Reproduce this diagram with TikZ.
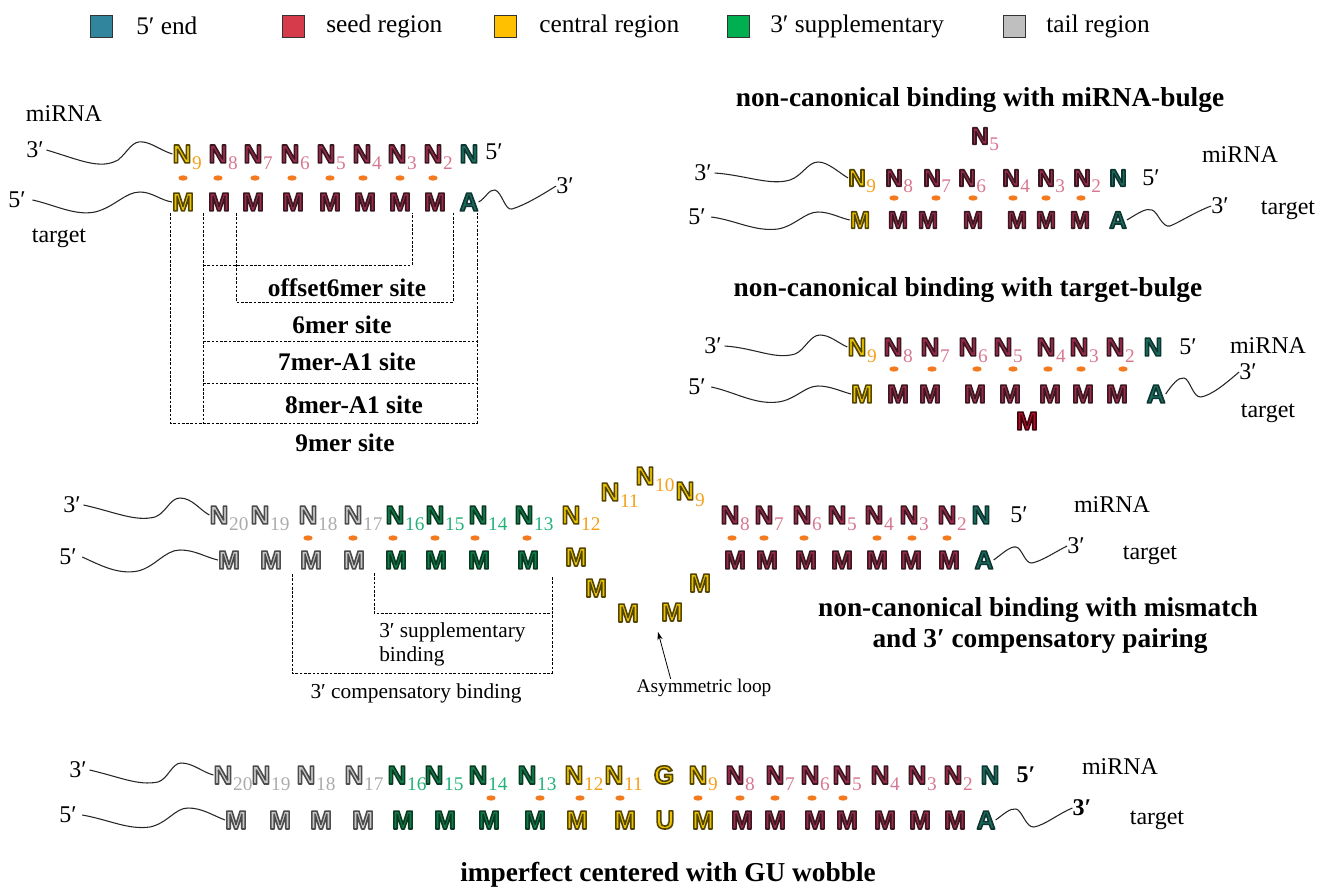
\documentclass[tikz,border=0pt]{standalone}
\usepackage{fontspec}
\setmainfont{Liberation Serif}
\newfontfamily\seqf{Liberation Sans}
\usetikzlibrary{shapes.geometric,arrows.meta}
\definecolor{seedF}{HTML}{9A2B4B}\definecolor{seedS}{HTML}{D77891}
\definecolor{cenF}{HTML}{EBC400}\definecolor{cenS}{HTML}{F5A01A}
\definecolor{supF}{HTML}{117C4B}\definecolor{supS}{HTML}{22B27A}
\definecolor{tailF}{HTML}{C8C8C8}\definecolor{tailS}{HTML}{ABABAB}
\definecolor{endF}{HTML}{1D6A5E}
\definecolor{bulF}{HTML}{B01025}
\definecolor{dotc}{HTML}{F47A20}
\definecolor{legA}{HTML}{31859C}\definecolor{legB}{HTML}{D63B4C}\definecolor{legC}{HTML}{FFC000}
\definecolor{legD}{HTML}{00B050}\definecolor{legE}{HTML}{BFBFBF}
\newcommand{\oSeed}{0.23 0.09 0.13}
\newcommand{\oCen}{0.33 0.27 0.0}
\newcommand{\oSup}{0.04 0.23 0.13}
\newcommand{\oTail}{0.30 0.30 0.30}
\newcommand{\oFive}{0.05 0.21 0.19}
\newcommand{\oBul}{0.25 0.0 0.06}
\newcommand{\olt}[3]{{\color{#2}\special{pdf:literal direct 2 Tr 1 j 1 J 1.2 w #1 RG}#3\special{pdf:literal direct 0 Tr 0 j 0 J}}}
\newcommand{\subn}[2]{\rlap{\smash{\kern.6pt\lower5pt\hbox{\fontsize{14.5pt}{14.5pt}\selectfont\rmfamily\mdseries\color{#1}#2}}}}
\newcommand{\nS}[1]{\olt{\oSeed}{seedF}{N}\subn{seedS}{#1}}
\newcommand{\nC}[1]{\olt{\oCen}{cenF}{N}\subn{cenS}{#1}}
\newcommand{\nG}[1]{\olt{\oSup}{supF}{N}\subn{supS}{#1}}
\newcommand{\nT}[1]{\olt{\oTail}{tailF}{N}\subn{tailS}{#1}}
\newcommand{\nE}{\olt{\oFive}{endF}{N}}
\newcommand{\mS}{\olt{\oSeed}{seedF}{M}}
\newcommand{\mC}{\olt{\oCen}{cenF}{M}}
\newcommand{\mG}{\olt{\oSup}{supF}{M}}
\newcommand{\mT}{\olt{\oTail}{tailF}{M}}
\newcommand{\aE}{\olt{\oFive}{endF}{A}}
\newcommand{\mB}{\olt{\oBul}{bulF}{M}}
\newcommand{\gC}{\olt{\oCen}{cenF}{G}}
\newcommand{\uC}{\olt{\oCen}{cenF}{U}}
\tikzset{
 ltr/.style={inner sep=0pt, font=\seqf\bfseries\fontsize{19.5pt}{19.5pt}\selectfont},
 ltrb/.style={inner sep=0pt, font=\seqf\bfseries\fontsize{18pt}{18pt}\selectfont},
 dot/.style={ellipse, fill=dotc, minimum width=7pt, minimum height=4pt, inner sep=0pt},
 lab/.style={inner sep=0pt, font=\fontsize{18pt}{20pt}\selectfont},
 labb/.style={inner sep=0pt, font=\bfseries\fontsize{18pt}{20pt}\selectfont},
 ttl/.style={inner sep=0pt, font=\bfseries\fontsize{20.5pt}{24pt}\selectfont},
 site/.style={inner sep=0pt, font=\bfseries\fontsize{19pt}{21pt}\selectfont},
 note/.style={inner sep=0pt, font=\fontsize{16pt}{18pt}\selectfont},
 leg/.style={inner sep=0pt, anchor=west, font=\fontsize{19pt}{21pt}\selectfont},
 sqr/.style={draw=black!80, line width=0.5pt, minimum size=16.5pt, inner sep=0pt},
 dsh/.style={dash pattern=on 2pt off 1.2pt, line width=0.6pt},
 wv/.style={line width=0.8pt, black!85}
}
\begin{document}
\begin{tikzpicture}[x=0.75pt,y=-0.75pt]
\useasboundingbox (0,0) rectangle (1332,888);
% legend
\node[sqr, fill=legA] (lq1) at (101,26) {}; \node[leg] (lt1) at (136,26) {5′ end};
\node[sqr, fill=legB] (lq2) at (293,26) {}; \node[leg] (lt2) at (326,26) {seed region};
\node[sqr, fill=legC] (lq3) at (505,26) {}; \node[leg] (lt3) at (539,26) {central region};
\node[sqr, fill=legD] (lq4) at (738,26) {}; \node[leg] (lt4) at (770,26) {3′ supplementary};
\node[sqr, fill=legE] (lq5) at (1014,26) {}; \node[leg] (lt5) at (1046,26) {tail region};

% ---------- panel 1 ----------
\node[lab] (a-mi) at (64,114) {miRNA};
\node[lab] (a-l3) at (35,150) {3′};
\node[lab] (a-l5) at (17,200) {5′};
\node[lab] (a-tg) at (59,238) {target};
\foreach \x/\t [count=\i] in {182/\nC{9},218/\nS{8},253/\nS{7},290/\nS{6},326/\nS{5},362/\nS{4},397/\nS{3},433/\nS{2},469/\nE}
  \node[ltr] (a-n\i) at (\x,154) {\t};
\foreach \x/\t [count=\i] in {183/\mC,219/\mS,253/\mS,293/\mS,330/\mS,365/\mS,400/\mS,435/\mS,469/\aE}
  \node[ltr] (a-m\i) at (\x,202) {\t};
\foreach \x [count=\i] in {183,218,255,292,330,363,400,433}
  \node[dot] (a-d\i) at (\x,178) {};
\node[lab] (a-r5) at (494,152) {5′};
\node[lab] (a-r3) at (565,186) {3′};
\draw[wv] ([xshift=2]a-l3.east) .. controls (80,160) and (100,170) .. (118,160) .. controls (128,152) and (132,140) .. (143,142) .. controls (152,143) and (160,150) .. (a-n1.west);
\draw[wv] ([xshift=5]a-l5.east) .. controls (55,205) and (75,216) .. (95,212) .. controls (115,207) and (125,192) .. (140,192) .. controls (152,192) and (160,200) .. (a-m1.west);
\draw[wv] (a-m9.east) .. controls (486,198) and (489,189) .. (495,190) .. controls (502,192) and (505,211) .. (512,209) .. controls (525,205) and (540,196) .. (a-r3.west);
% site brackets
\draw[dsh] (170,213) -- (170,423) -- (477,423) -- (477,213);
\draw[dsh] (203,213) -- (203,423);
\draw[dsh] (203,265) -- (412,265) -- (412,213);
\draw[dsh] (236,213) -- (236,302) -- (453,302) -- (453,213);
\draw[dsh] (203,341) -- (477,341);
\draw[dsh] (203,383) -- (477,383);
\node[site] (s1) at (347,288) {offset6mer site};
\node[site] (s2) at (342,325) {6mer site};
\node[site] (s3) at (347,362) {7mer-A1 site};
\node[site] (s4) at (354,405) {8mer-A1 site};
\node[site] (s5) at (345,443) {9mer site};

% ---------- panel 2 ----------
\node[ttl] (b-t) at (980,100) {non-canonical binding with miRNA-bulge};
\node[ltrb] (b-bu) at (980,136) {\nS{5}};
\node[lab] (b-mi) at (1240,155) {miRNA};
\node[lab] (b-l3) at (703,173) {3′};
\node[lab] (b-l5) at (697,217) {5′};
\foreach \x/\t [count=\i] in {857/\nC{9},894/\nS{8},932/\nS{7},967/\nS{6},1011/\nS{4},1046/\nS{3},1082/\nS{2},1118/\nE}
  \node[ltrb] (b-n\i) at (\x,178) {\t};
\foreach \x/\t [count=\i] in {860/\mC,898/\mS,928/\mS,973/\mS,1017/\mS,1046/\mS,1080/\mS,1118/\aE}
  \node[ltrb] (b-m\i) at (\x,220) {\t};
\foreach \x [count=\i] in {894,936,973,1013,1046,1081}
  \node[dot] (b-d\i) at (\x,198) {};
\node[lab] (b-r5) at (1151,178) {5′};
\node[lab] (b-r3) at (1220,206) {3′};
\node[lab] (b-tg) at (1288,210) {target};
\draw[wv] ([xshift=2]b-l3.east) .. controls (745,175) and (770,186) .. (790,180) .. controls (802,176) and (808,162) .. (818,162) .. controls (828,162) and (838,172) .. (b-n1.west);
\draw[wv] ([xshift=4]b-l5.east) .. controls (735,220) and (755,232) .. (778,229) .. controls (795,226) and (805,212) .. (818,212) .. controls (830,212) and (840,218) .. (b-m1.west);
\draw[wv] (b-m8.east) .. controls (1140,212) and (1146,208) .. (1152,210) .. controls (1158,212) and (1162,228) .. (1170,226) .. controls (1180,222) and (1195,212) .. (b-r3.west);

% ---------- panel 3 ----------
\node[ttl] (c-t) at (968,290) {non-canonical binding with target-bulge};
\node[lab] (c-l3) at (713,346) {3′};
\node[lab] (c-l5) at (697,387) {5′};
\foreach \x/\t [count=\i] in {857/\nC{9},893/\nS{8},930/\nS{7},968/\nS{6},1003/\nS{5},1046/\nS{4},1079/\nS{3},1115/\nS{2},1153/\nE}
  \node[ltr] (c-n\i) at (\x,347) {\t};
\foreach \x/\t [count=\i] in {862/\mC,898/\mS,930/\mS,975/\mS,1010/\mS,1050/\mS,1083/\mS,1117/\mS,1156/\aE}
  \node[ltr] (c-m\i) at (\x,394) {\t};
\node[ltr] (c-bu) at (1027,421) {\mB};
\foreach \x [count=\i] in {894,932,977,1013,1048,1081,1123}
  \node[dot] (c-d\i) at (\x,369) {};
\node[lab] (c-r5) at (1188,347) {5′};
\node[lab] (c-mi) at (1268,346) {miRNA};
\node[lab] (c-r3) at (1248,372) {3′};
\node[lab] (c-tg) at (1268,413) {target};
\draw[wv] ([xshift=2]c-l3.east) .. controls (755,348) and (775,360) .. (795,354) .. controls (805,350) and (810,335) .. (820,335) .. controls (830,335) and (838,343) .. (c-n1.west);
\draw[wv] ([xshift=4]c-l5.east) .. controls (735,392) and (755,405) .. (778,402) .. controls (795,400) and (805,386) .. (818,386) .. controls (830,386) and (840,391) .. (c-m1.west);
\draw[wv] (c-m9.east) .. controls (1172,385) and (1178,377) .. (1184,378) .. controls (1190,379) and (1193,398) .. (1201,397) .. controls (1212,395) and (1225,384) .. (c-r3.west);

% ---------- panel 4 ----------
\node[lab] (d-l3) at (72,505) {3′};
\node[lab] (d-l5) at (68,557) {5′};
\foreach \x/\t [count=\i] in {219/\nT{20},260/\nT{19},308/\nT{18},353/\nT{17},395/\nG{16},435/\nG{15},478/\nG{14},524/\nG{13},571/\nC{12}}
  \node[ltr] (d-n\i) at (\x,515) {\t};
\node[ltr] (d-n11) at (610,492) {\nC{11}};
\node[ltr] (d-n10) at (645,476) {\nC{10}};
\node[ltr] (d-n9) at (685,491) {\nC{9}};
\foreach \x/\t [count=\i] in {730/\nS{8},764/\nS{7},802/\nS{6},837/\nS{5},874/\nS{4},909/\nS{3},947/\nS{2},981/\nE}
  \node[ltr] (d-s\i) at (\x,515) {\t};
\foreach \x/\t [count=\i] in {229/\mT,271/\mT,311/\mT,354/\mT,396/\mG,436/\mG,479/\mG,528/\mG}
  \node[ltr] (d-m\i) at (\x,560) {\t};
\node[ltr] (d-o1) at (576,557) {\mC};
\node[ltr] (d-o2) at (596,588) {\mC};
\node[ltr] (d-o3) at (628,613) {\mC};
\node[ltr] (d-o4) at (672,612) {\mC};
\node[ltr] (d-o5) at (700,583) {\mC};
\foreach \x/\t [count=\i] in {735/\mS,767/\mS,806/\mS,842/\mS,877/\mS,911/\mS,949/\mS,984/\aE}
  \node[ltr] (d-t\i) at (\x,560) {\t};
\foreach \x [count=\i] in {308,353,393,435,475,527,732,764,804,877,912,947}
  \node[dot] (d-d\i) at (\x,538) {};
\node[lab] (d-r5) at (1019,515) {5′};
\node[lab] (d-mi) at (1112,505) {miRNA};
\node[lab] (d-r3) at (1076,546) {3′};
\node[lab] (d-tg) at (1150,555) {target};
\draw[wv] ([xshift=2]d-l3.east) .. controls (115,512) and (135,522) .. (155,517) .. controls (166,513) and (170,498) .. (180,498) .. controls (192,498) and (200,510) .. (d-n1.west);
\draw[wv] ([xshift=4]d-l5.east) .. controls (100,565) and (118,575) .. (138,571) .. controls (155,567) and (165,550) .. (180,550) .. controls (195,550) and (205,557) .. (d-m1.west);
\draw[wv] (d-t8.east) .. controls (1002,554) and (1010,546) .. (1016,547) .. controls (1022,548) and (1025,564) .. (1032,563) .. controls (1042,561) and (1055,552) .. (d-r3.west);
\draw[dsh] (374,573) -- (374,613) -- (552,613);
\draw[dsh] (552,577) -- (552,673) -- (292,673) -- (292,573);
\node[note, anchor=west, align=left] (d-sup) at (379,644) {3′ supplementary\\binding};
\node[note] (d-com) at (416,693) {3′ compensatory binding};
\node[inner sep=0pt, font=\fontsize{14.5pt}{16pt}\selectfont] (d-asy) at (704,688) {Asymmetric loop};
\coordinate (d-tip) at (658,632);
\draw[line width=0.6pt, -{Stealth[length=6pt,width=4pt]}] ([xshift=-25]d-asy.north) -- (d-tip);
\node[ttl] (d-t1) at (1038,610) {non-canonical binding with mismatch};
\node[ttl] (d-t2) at (1040,641) {and 3′ compensatory pairing};

% ---------- panel 5 ----------
\node[lab] (e-l3) at (78,770) {3′};
\node[lab] (e-l5) at (68,815) {5′};
\foreach \x/\t [count=\i] in {223/\nT{20},261/\nT{19},306/\nT{18},354/\nT{17},397/\nG{16},434/\nG{15},478/\nG{14},527/\nG{13},574/\nC{12},614/\nC{11},664/\gC,698/\nC{9},735/\nS{8},775/\nS{7},810/\nS{6},842/\nS{5},880/\nS{4},917/\nS{3},953/\nS{2},990/\nE}
  \node[ltr] (e-n\i) at (\x,775) {\t};
\foreach \x/\t [count=\i] in {236/\mT,280/\mT,321/\mT,363/\mT,403/\mG,445/\mG,489/\mG,535/\mG,577/\mC,625/\mC,665/\uC,703/\mC,742/\mS,775/\mS,815/\mS,847/\mS,885/\mS,920/\mS,955/\mS,986/\aE}
  \node[ltr] (e-m\i) at (\x,820) {\t};
\foreach \x [count=\i] in {491,540,580,620,698,740,775,812,843}
  \node[dot] (e-d\i) at (\x,798) {};
\node[labb] (e-r5) at (1026,775) {5′};
\node[lab] (e-mi) at (1120,767) {miRNA};
\node[labb] (e-r3) at (1082,808) {3′};
\node[lab] (e-tg) at (1157,820) {target};
\draw[wv] ([xshift=2]e-l3.east) .. controls (120,777) and (138,786) .. (158,782) .. controls (168,779) and (172,763) .. (181,763) .. controls (193,763) and (202,772) .. (e-n1.west);
\draw[wv] ([xshift=4]e-l5.east) .. controls (110,820) and (128,830) .. (150,827) .. controls (168,823) and (175,808) .. (188,808) .. controls (202,808) and (212,815) .. (e-m1.west);
\draw[wv] (e-m20.east) .. controls (1004,814) and (1010,808) .. (1016,809) .. controls (1022,810) and (1026,828) .. (1034,827) .. controls (1045,825) and (1058,814) .. (e-r3.west);
\node[ttl] (e-t) at (668,875) {imperfect centered with GU wobble};
\end{tikzpicture}
\end{document}
